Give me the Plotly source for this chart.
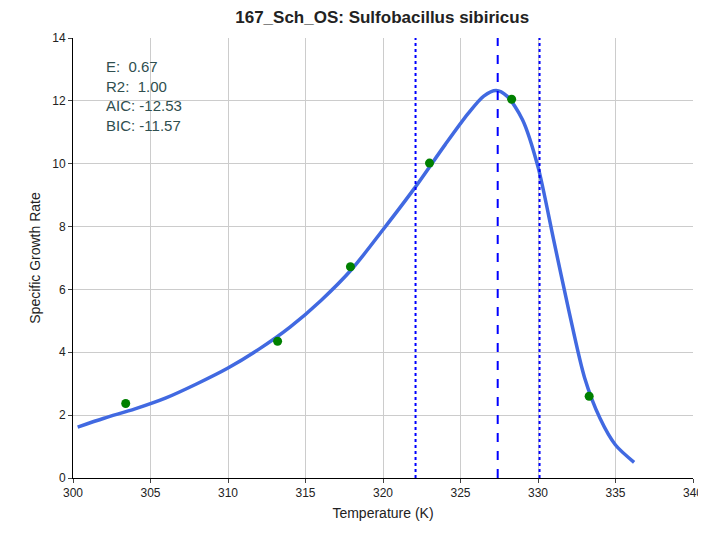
import plotly.graph_objects as go

curve_t = [300.3, 302, 304, 306, 308, 310, 312, 314, 316, 318, 320, 322, 324, 325.5, 326.5, 327.3, 328, 329, 330, 331, 332, 333, 334, 335, 336.2]
curve_r = [1.62, 1.9, 2.2, 2.55, 3.0, 3.5, 4.1, 4.8, 5.65, 6.65, 7.9, 9.2, 10.6, 11.6, 12.15, 12.33, 12.15, 11.4, 9.9, 7.6, 5.3, 3.2, 1.9, 1.05, 0.5]
obs_t = [303.4, 313.2, 317.9, 323.0, 328.3, 333.3]
obs_r = [2.37, 4.35, 6.72, 10.02, 12.05, 2.6]
t_peak = 327.4
t_low, t_high = 322.1, 330.1
stats = ["E:  0.67", "R2:  1.00", "AIC: -12.53", "BIC: -11.57"]

fig = go.Figure()
fig.add_trace(go.Scatter(x=curve_t, y=curve_r, mode="lines", line=dict(color="#4169e1", width=3.5, shape="spline", smoothing=0.8), showlegend=False))
fig.add_trace(go.Scatter(x=obs_t, y=obs_r, mode="markers", marker=dict(color="green", size=9), showlegend=False))
fig.add_vline(x=t_peak, line=dict(color="blue", dash="dash", width=2))
fig.add_vline(x=t_low, line=dict(color="blue", dash="dot", width=2))
fig.add_vline(x=t_high, line=dict(color="blue", dash="dot", width=2))
fig.add_annotation(x=0.05, y=0.96, xref="paper", yref="paper", xanchor="left", yanchor="top",
                   text="<br>".join(stats), showarrow=False, align="left",
                   font=dict(color="#2f4f4f", size=15, family="Liberation Sans"))
fig.update_layout(
    width=706, height=533, margin=dict(l=65, r=21, t=30, b=63, autoexpand=False),
    plot_bgcolor="white", paper_bgcolor="white",
    font=dict(family="Liberation Sans", size=12, color="#222"),
    title=dict(text="<b>167_Sch_OS: Sulfobacillus sibiricus</b>", x=0.53, y=0.995, yanchor="top", font=dict(size=17)),
)
ax = dict(showgrid=True, gridcolor="#cccccc", linecolor="black", showline=True, ticks="outside", ticklen=4, zeroline=False, mirror=False, automargin=False)
fig.update_xaxes(range=[300, 340], dtick=5, title=dict(text="Temperature (K)", font=dict(size=14), standoff=8), **ax)
fig.update_yaxes(range=[0, 14], dtick=2, title=dict(text="Specific Growth Rate", font=dict(size=14), standoff=8), **ax)
fig.write_html("out.html")
